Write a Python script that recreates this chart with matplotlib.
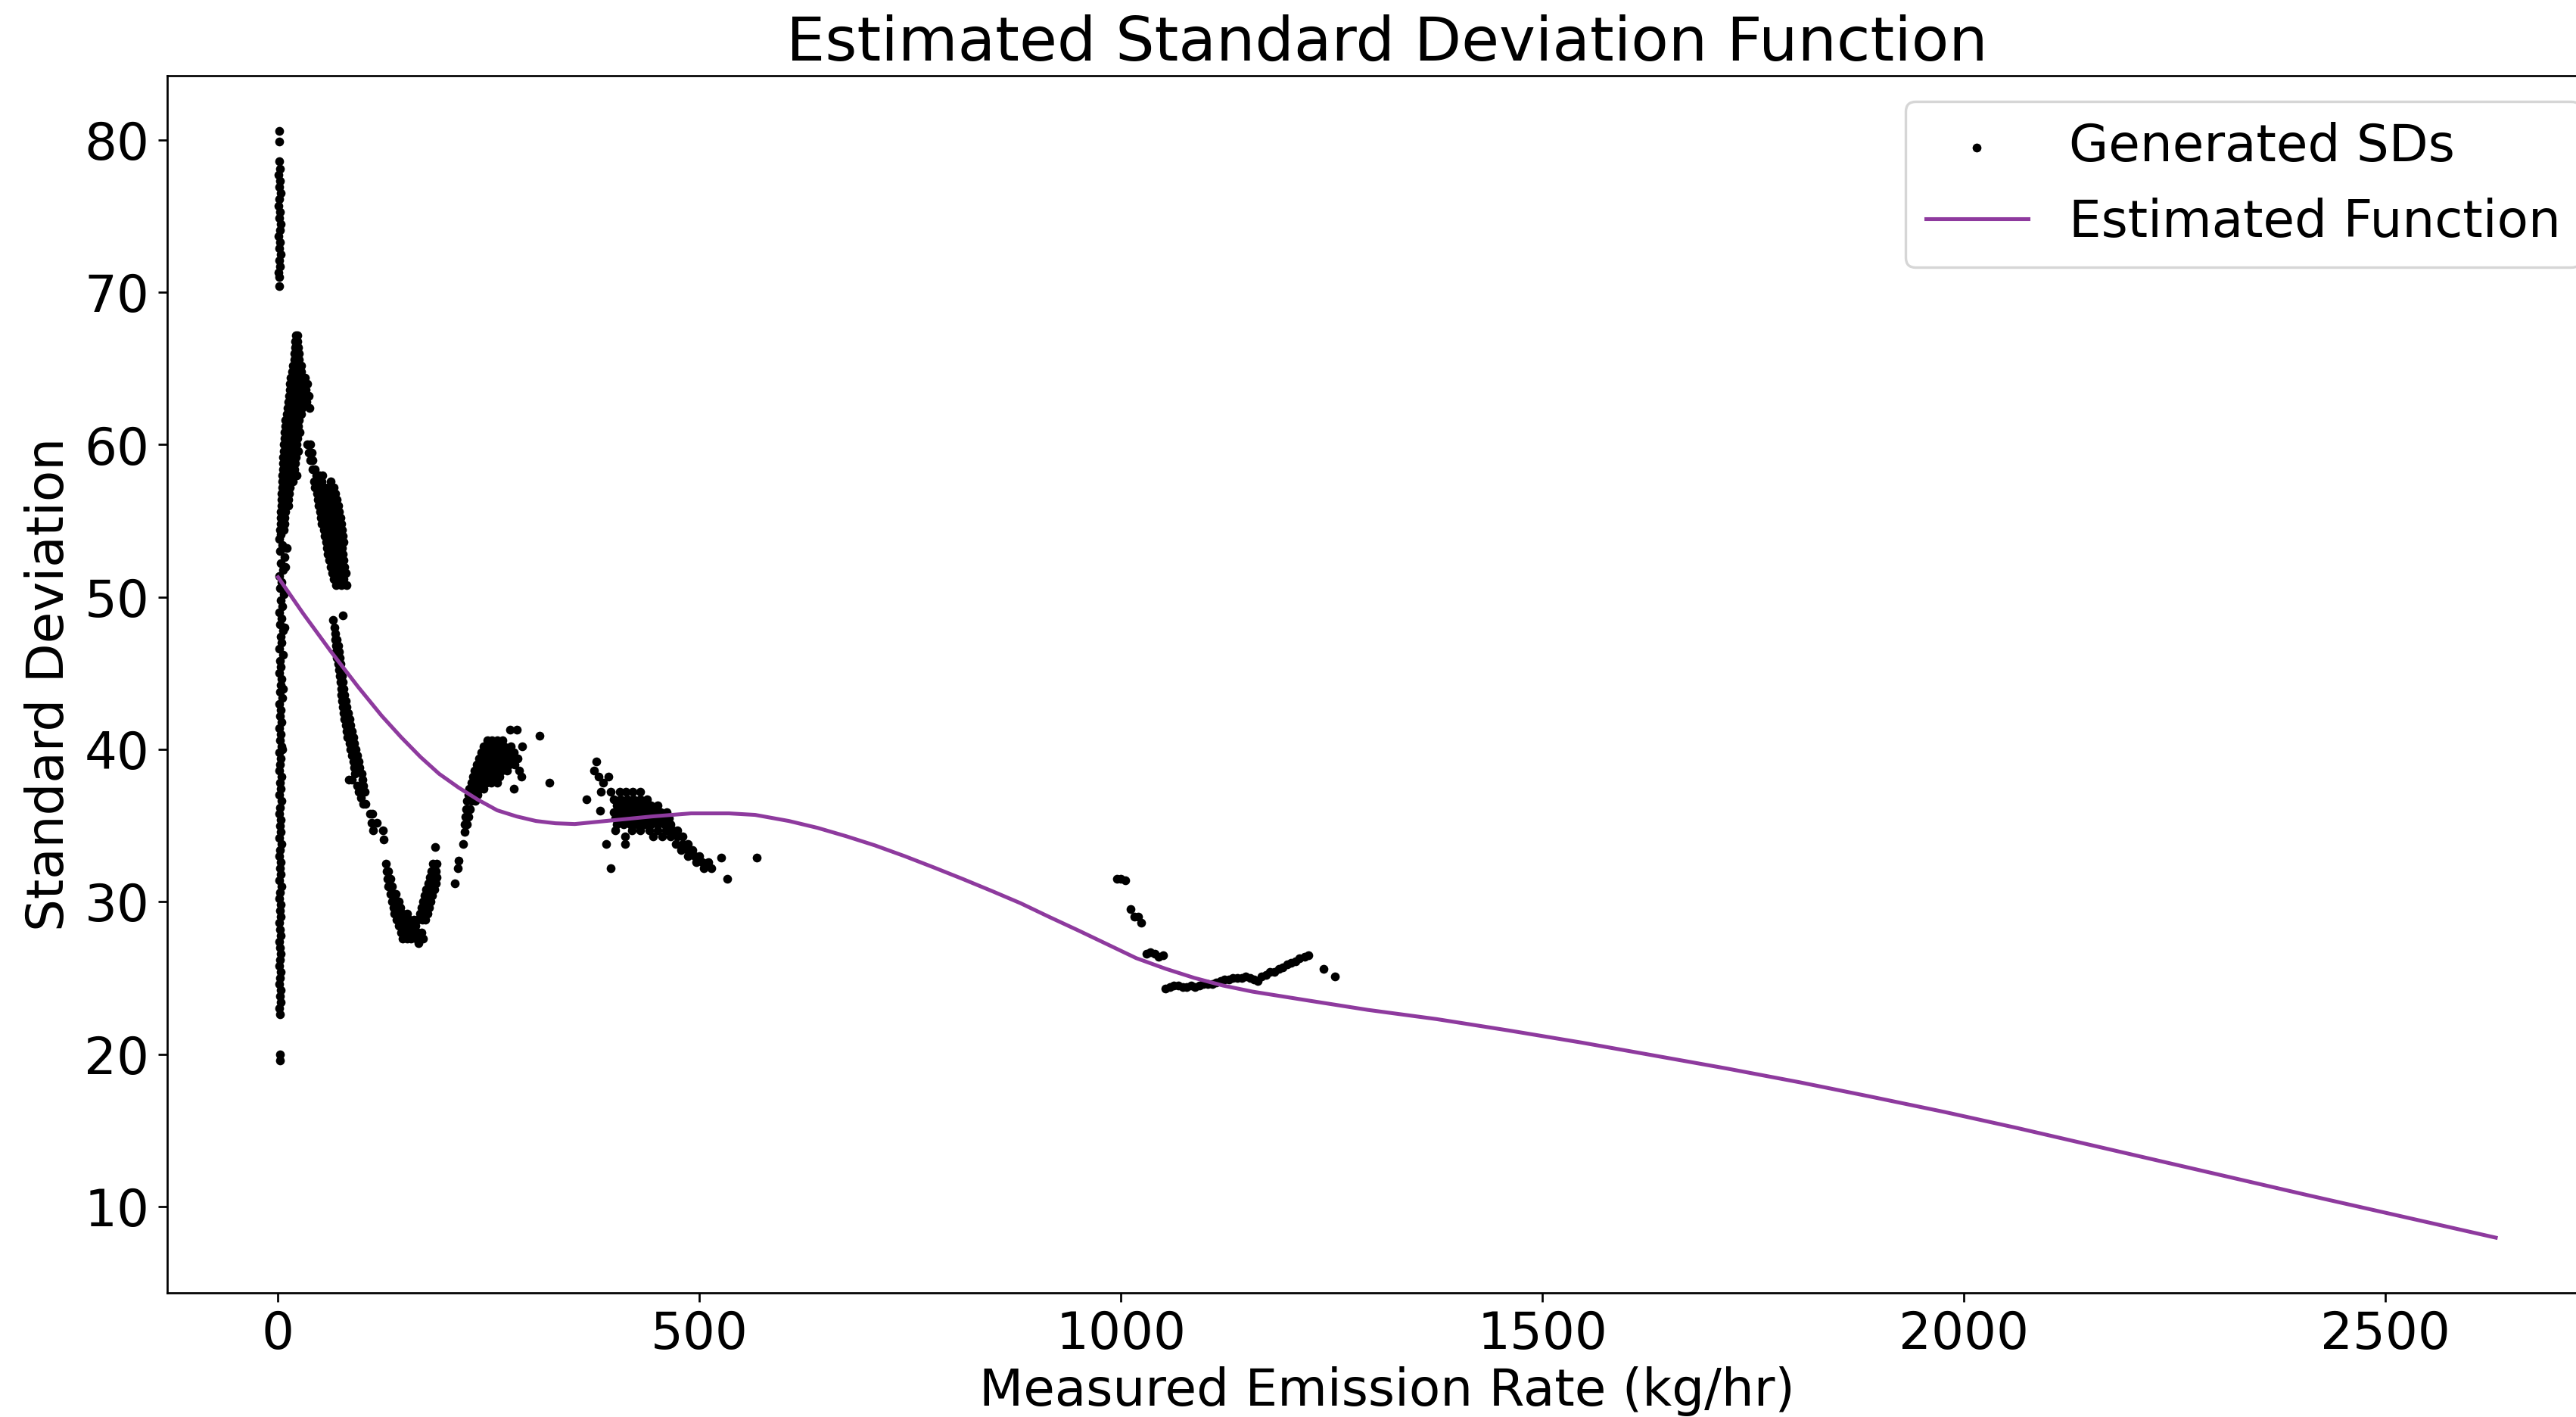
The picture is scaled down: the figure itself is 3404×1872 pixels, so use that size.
import numpy as np
import matplotlib.pyplot as plt

# ---- Generated SDs, read off the picture cluster by cluster ----
# vertical spike at ~0 kg/hr, upper part
spike_top_x = [1.0, 1.5, 1.5, 2.0, 0.5, 2.5, 1.0, 3.0, 1.5, 0.5, 2.5, 1.0,
               3.0, 2.0, 0.5, 2.5, 1.5, 3.0, 1.0, 2.0, 0.5, 1.5, 1.5]
spike_top_y = [80.6, 79.9, 78.6, 78.1, 77.7, 77.3, 76.9, 76.5, 76.1, 75.7, 75.3, 74.9,
               74.5, 74.1, 73.7, 73.3, 72.9, 72.5, 72.1, 71.7, 71.3, 71.0, 70.4]

# vertical spike at ~0 kg/hr, lower part
spike_low_x = [2.5, 2.5,
               2.5, 1.5, 3.0, 2.0, 3.5, 1.5, 2.5, 3.0, 1.5, 2.0,
               3.5, 2.0, 1.0, 3.0, 2.5, 1.5, 3.5, 2.0, 3.0, 1.0,
               2.5, 4.0, 1.5, 3.0, 2.0, 3.5, 1.0, 2.5, 4.0, 1.5,
               3.0, 2.0, 3.5, 1.0, 2.5, 4.0, 1.5, 3.0, 2.0, 4.0,
               1.0, 2.5, 3.5, 1.5, 4.5, 2.0, 3.0, 1.0, 4.0, 2.5,
               3.5, 1.5, 5.0, 2.0, 3.0, 4.5, 1.0, 3.5, 2.0, 5.5,
               1.5, 4.0, 3.0, 6.0, 2.0, 4.5, 1.0, 5.0, 3.0, 7.0,
               2.0, 4.0, 1.0, 6.0, 3.0, 8.0, 2.0, 5.0, 1.0, 3.5,
               5.0, 6.0, 7.5, 9.0, 10.0]
spike_low_y = [19.6, 20.0,
               22.6, 23.0, 23.4, 23.8, 24.2, 24.6, 25.0, 25.4, 25.8, 26.2,
               26.6, 27.0, 27.4, 27.8, 28.2, 28.6, 29.0, 29.4, 29.8, 30.2,
               30.6, 31.0, 31.4, 31.8, 32.2, 32.6, 33.0, 33.4, 33.8, 34.2,
               34.6, 35.0, 35.4, 35.8, 36.2, 36.6, 37.0, 37.4, 37.8, 38.2,
               38.6, 39.0, 39.4, 39.8, 40.2, 40.6, 41.0, 41.4, 41.8, 42.2,
               42.6, 43.0, 43.4, 43.8, 44.2, 44.6, 45.0, 45.4, 45.8, 46.2,
               46.6, 47.0, 47.4, 47.8, 48.2, 48.6, 49.0, 49.4, 49.8, 50.2,
               50.6, 51.0, 51.4, 51.8, 52.2, 52.6, 53.0, 53.4, 53.8, 54.1,
               40.0, 44.0, 48.0, 52.0, 53.2]

# rising branch up to the peak near 20 kg/hr
peak_rise = [
    (21, 67.2), (23, 67.2), (20, 66.8), (23, 66.8), (20, 66.4), (24, 66.4),
    (19, 66.0), (22, 66.0), (25, 66.0), (19, 65.6), (22, 65.6), (25, 65.6),
    (18, 65.2), (21, 65.2), (24, 65.2), (27, 65.2), (17, 64.8), (20, 64.8), (23, 64.8), (27, 64.8),
    (15, 64.4), (19, 64.4), (23, 64.4), (28, 64.4), (32, 64.4),
    (14, 64.0), (18, 64.0), (22, 64.0), (26, 64.0), (31, 64.0), (35, 64.0),
    (14, 63.6), (18, 63.6), (22, 63.6), (27, 63.6), (33, 63.6),
    (13, 63.2), (17, 63.2), (21, 63.2), (25, 63.2), (30, 63.2), (36, 63.2),
    (12, 62.8), (16, 62.8), (20, 62.8), (24, 62.8), (29, 62.8), (34, 62.8),
    (11, 62.4), (15, 62.4), (19, 62.4), (23, 62.4), (28, 62.4), (37, 62.4),
    (10, 62.0), (14, 62.0), (18, 62.0), (22, 62.0), (27, 62.0),
    (9, 61.6), (13, 61.6), (17, 61.6), (21, 61.6), (25, 61.6),
    (9, 61.2), (12, 61.2), (16, 61.2), (20, 61.2), (24, 61.2),
    (8, 60.8), (12, 60.8), (16, 60.8), (20, 60.8), (26, 60.8),
    (8, 60.4), (11, 60.4), (15, 60.4), (19, 60.4), (23, 60.4),
    (7, 60.0), (11, 60.0), (14, 60.0), (18, 60.0), (22, 60.0),
    (7, 59.6), (10, 59.6), (14, 59.6), (18, 59.6), (24, 59.6),
    (6, 59.2), (10, 59.2), (13, 59.2), (17, 59.2), (21, 59.2),
    (6, 58.8), (9, 58.8), (13, 58.8), (16, 58.8), (20, 58.8),
    (6, 58.4), (9, 58.4), (12, 58.4), (16, 58.4), (19, 58.4),
    (5, 58.0), (8, 58.0), (12, 58.0), (15, 58.0), (22, 58.0),
    (5, 57.6), (8, 57.6), (11, 57.6), (14, 57.6), (18, 57.6),
    (5, 57.2), (8, 57.2), (11, 57.2), (14, 57.2),
    (4, 56.8), (7, 56.8), (10, 56.8), (13, 56.8),
    (4, 56.4), (7, 56.4), (10, 56.4), (12, 56.4),
    (4, 56.0), (6, 56.0), (9, 56.0), (12, 56.0),
    (3, 55.6), (6, 55.6), (9, 55.6), (3, 55.2), (6, 55.2), (8, 55.2),
    (3, 54.8), (5, 54.8), (8, 54.8), (2, 54.4), (5, 54.4), (7, 54.4),
]

# falling branch from the peak down to ~125 kg/hr
peak_fall = [
    (35, 60.0), (38, 60.0), (36, 59.5), (40, 59.5), (38, 59.0), (41, 59.0),
    (41, 58.4), (44, 58.4), (45, 58.0), (49, 58.0), (53, 58.0),
    (43, 57.6), (47, 57.6), (52, 57.6), (62, 57.6),
    (44, 57.2), (49, 57.2), (55, 57.2), (60, 57.2), (66, 57.2),
    (46, 56.8), (51, 56.8), (57, 56.8), (63, 56.8), (68, 56.8),
    (47, 56.4), (53, 56.4), (59, 56.4), (65, 56.4), (70, 56.4),
    (48, 56.0), (54, 56.0), (60, 56.0), (66, 56.0), (71, 56.0),
    (50, 55.6), (56, 55.6), (62, 55.6), (68, 55.6), (72, 55.6),
    (51, 55.2), (57, 55.2), (63, 55.2), (69, 55.2), (74, 55.2),
    (52, 54.8), (58, 54.8), (64, 54.8), (70, 54.8), (75, 54.8),
    (54, 54.4), (60, 54.4), (66, 54.4), (72, 54.4), (76, 54.4),
    (55, 54.0), (61, 54.0), (67, 54.0), (73, 54.0), (77, 54.0),
    (57, 53.6), (63, 53.6), (69, 53.6), (75, 53.6), (78, 53.6),
    (58, 53.2), (64, 53.2), (70, 53.2), (76, 53.2),
    (59, 52.8), (65, 52.8), (71, 52.8), (77, 52.8),
    (61, 52.4), (67, 52.4), (73, 52.4), (78, 52.4),
    (62, 52.0), (68, 52.0), (74, 52.0), (79, 52.0),
    (64, 51.6), (70, 51.6), (76, 51.6), (80, 51.6),
    (66, 51.2), (72, 51.2), (78, 51.2), (69, 50.8), (75, 50.8), (81, 50.8),
    (77, 48.8), (65, 48.5), (67, 48.0), (68, 47.6), (68, 47.2), (70, 47.2),
    (69, 46.8), (71, 46.8), (69, 46.4), (72, 46.4), (70, 46.0), (73, 46.0),
    (71, 45.6), (74, 45.6), (72, 45.2), (75, 45.2), (73, 44.8), (76, 44.8),
    (74, 44.4), (77, 44.4), (75, 44.0), (78, 44.0), (75, 43.6), (79, 43.6),
    (76, 43.2), (80, 43.2), (77, 42.8), (81, 42.8), (78, 42.4), (83, 42.4),
    (79, 42.0), (85, 42.0), (80, 41.6), (86, 41.6), (81, 41.2), (88, 41.2),
    (82, 40.8), (89, 40.8), (85, 40.4), (90, 40.4), (86, 40.0), (92, 40.0),
    (88, 39.6), (94, 39.6), (89, 39.2), (96, 39.2), (90, 38.8), (97, 38.8),
    (91, 38.4), (99, 38.4), (84, 38.0), (88, 38.0), (100, 38.0),
    (94, 37.6), (101, 37.6), (96, 37.2), (103, 37.2), (98, 36.8),
    (101, 36.4), (104, 36.4), (109, 35.8), (112, 35.8), (111, 35.2), (117, 35.2),
    (113, 34.7), (124, 34.7), (125, 34.1),
]

# V-shaped valley around 130-190 kg/hr
valley = [
    (128, 32.5), (129, 32.0), (131, 32.0), (130, 31.5), (133, 31.5),
    (131, 31.0), (135, 31.0), (133, 30.5), (137, 30.5), (140, 30.5),
    (135, 30.0), (139, 30.0), (143, 30.0), (137, 29.6), (141, 29.6), (145, 29.6),
    (138, 29.2), (143, 29.2), (148, 29.2), (153, 29.2),
    (141, 28.8), (146, 28.8), (151, 28.8), (156, 28.8), (161, 28.8),
    (143, 28.4), (148, 28.4), (153, 28.4), (158, 28.4), (163, 28.4),
    (146, 28.0), (151, 28.0), (155, 28.0), (160, 28.0), (166, 28.0), (170, 28.0),
    (148, 27.6), (153, 27.6), (158, 27.6), (164, 27.6), (172, 27.6), (167, 27.3),
    (166, 28.8), (171, 28.8), (175, 28.8), (168, 29.2), (173, 29.2), (177, 29.2),
    (170, 29.6), (175, 29.6), (179, 29.6), (172, 30.0), (177, 30.0), (181, 30.0),
    (174, 30.4), (179, 30.4), (183, 30.4), (176, 30.8), (181, 30.8), (185, 30.8),
    (178, 31.2), (183, 31.2), (187, 31.2), (180, 31.6), (185, 31.6), (188, 31.6),
    (182, 32.0), (187, 32.0), (184, 32.5), (188, 32.5), (186, 33.6),
]

# rising hump around 210-320 kg/hr
hump = [
    (210, 31.2), (213, 32.2), (214, 32.7), (220, 33.8), (221, 34.6),
    (221, 35.1), (224, 35.1), (222, 35.6), (226, 35.6), (223, 36.1), (228, 36.1),
    (224, 36.6), (229, 36.6), (234, 36.6), (226, 37.0), (231, 37.0), (237, 37.0),
    (227, 37.4), (233, 37.4), (239, 37.4), (244, 37.4), (280, 37.4),
    (229, 37.8), (235, 37.8), (241, 37.8), (247, 37.8), (253, 37.8), (260, 37.8), (322, 37.8),
    (231, 38.2), (237, 38.2), (243, 38.2), (249, 38.2), (256, 38.2), (263, 38.2), (289, 38.2),
    (233, 38.6), (239, 38.6), (245, 38.6), (251, 38.6), (258, 38.6), (265, 38.6), (272, 38.6), (286, 38.6),
    (236, 39.0), (242, 39.0), (248, 39.0), (254, 39.0), (260, 39.0), (267, 39.0), (274, 39.0), (281, 39.0),
    (238, 39.4), (244, 39.4), (250, 39.4), (256, 39.4), (262, 39.4), (269, 39.4), (277, 39.4), (284, 39.4),
    (241, 39.8), (247, 39.8), (253, 39.8), (259, 39.8), (265, 39.8), (272, 39.8), (280, 39.8),
    (244, 40.2), (250, 40.2), (256, 40.2), (262, 40.2), (268, 40.2), (276, 40.2), (290, 40.2),
    (248, 40.6), (254, 40.6), (260, 40.6), (266, 40.6),
    (275, 41.3), (283, 41.3), (310, 40.9),
]

# cluster around 370-570 kg/hr
mid_cluster = [
    (378, 39.2), (375, 38.6), (380, 38.2), (392, 38.2), (386, 37.8),
    (383, 37.2), (395, 37.2), (405, 37.2), (413, 37.2), (421, 37.2), (430, 37.2),
    (366, 36.7), (398, 36.7), (406, 36.7), (414, 36.7), (422, 36.7), (430, 36.7), (438, 36.7),
    (402, 36.3), (410, 36.3), (418, 36.3), (426, 36.3), (434, 36.3), (442, 36.3), (450, 36.3),
    (382, 36.0),
    (398, 35.9), (406, 35.9), (414, 35.9), (422, 35.9), (430, 35.9), (438, 35.9), (446, 35.9), (454, 35.9), (461, 35.9),
    (400, 35.5), (408, 35.5), (416, 35.5), (424, 35.5), (432, 35.5), (440, 35.5), (448, 35.5), (456, 35.5), (464, 35.5),
    (402, 35.1), (410, 35.1), (418, 35.1), (426, 35.1), (434, 35.1), (442, 35.1), (450, 35.1), (458, 35.1), (466, 35.1),
    (400, 34.7), (420, 34.7), (430, 34.7), (440, 34.7), (450, 34.7), (460, 34.7), (468, 34.7), (474, 34.7),
    (412, 34.3), (445, 34.3), (456, 34.3), (466, 34.3), (474, 34.3), (480, 34.3),
    (389, 33.8), (412, 33.8), (472, 33.8), (480, 33.8), (486, 33.8),
    (478, 33.4), (486, 33.4), (492, 33.4), (486, 33.0), (494, 33.0), (500, 33.0),
    (496, 32.6), (503, 32.6), (510, 32.6), (395, 32.2), (505, 32.2), (514, 32.2),
    (526, 32.9), (533, 31.5), (568, 32.9),
]

# cluster around 1000-1250 kg/hr
far_cluster = [
    (995, 31.5), (1000, 31.5), (1005, 31.4), (1011, 29.5), (1016, 29.0), (1020, 29.0),
    (1024, 28.6), (1030, 26.6), (1035, 26.7), (1040, 26.6), (1045, 26.4), (1050, 26.5),
    (1053, 24.3), (1058, 24.4), (1063, 24.5), (1068, 24.5), (1073, 24.4),
    (1078, 24.4), (1083, 24.5), (1088, 24.4), (1093, 24.5),
    (1098, 24.6), (1103, 24.6), (1108, 24.6), (1113, 24.7),
    (1118, 24.8), (1123, 24.9), (1128, 24.9), (1133, 25.0), (1138, 25.0),
    (1143, 25.0), (1148, 25.1), (1153, 25.0), (1158, 24.9), (1162, 24.8),
    (1167, 25.1), (1172, 25.2), (1177, 25.4), (1182, 25.4), (1187, 25.6), (1192, 25.7),
    (1197, 25.9), (1202, 26.0), (1207, 26.1), (1212, 26.3), (1218, 26.4), (1222, 26.5),
    (1240, 25.6), (1254, 25.1),
]

# ---- Estimated function ----
curve_x = [0, 30, 63, 95, 123, 146, 169, 191, 214, 237, 260, 283, 306, 329, 352,
           398, 444, 490, 535, 566, 606, 640, 674, 708, 743, 778, 812, 847, 881,
           915, 950, 984, 1018, 1053, 1087, 1121, 1156, 1224, 1293, 1374, 1460,
           1547, 1633, 1719, 1805, 1890, 1977, 2063, 2149, 2235, 2321, 2407,
           2519, 2631]
curve_y = [51.3, 48.9, 46.4, 44.1, 42.2, 40.8, 39.5, 38.4, 37.5, 36.7, 36.0, 35.6,
           35.3, 35.15, 35.1, 35.35, 35.6, 35.8, 35.8, 35.7, 35.3, 34.85, 34.3, 33.7,
           33.0, 32.25, 31.5, 30.7, 29.9, 29.0, 28.1, 27.2, 26.3, 25.6, 25.0, 24.5,
           24.1, 23.5, 22.9, 22.3, 21.55, 20.75, 19.9, 19.05, 18.15, 17.2, 16.2,
           15.15, 14.05, 12.95, 11.85, 10.75, 9.35, 7.95]

clusters = [peak_rise, peak_fall, valley, hump, mid_cluster, far_cluster]
sd_x = np.concatenate([spike_top_x, spike_low_x] + [np.array(c)[:, 0] for c in clusters])
sd_y = np.concatenate([spike_top_y, spike_low_y] + [np.array(c)[:, 1] for c in clusters])

plt.rcParams['font.size'] = 20

fig = plt.figure(figsize=(14, 7.7), dpi=3404 / 14)
ax = fig.add_axes([0.0649, 0.0875, 0.947, 0.8591])

ax.scatter(sd_x, sd_y, s=12, color='black', linewidths=0, label='Generated SDs')
ax.plot(curve_x, curve_y, color='#8e3a9e', linewidth=1.5, label='Estimated Function')

ax.set_title('Estimated Standard Deviation Function')
ax.set_xlabel('Measured Emission Rate (kg/hr)', labelpad=2.5)
ax.set_ylabel('Standard Deviation')
ax.tick_params(axis='x', pad=3)
ax.legend(loc='upper right')

fig.savefig('out.png', dpi=3404 / 14)
